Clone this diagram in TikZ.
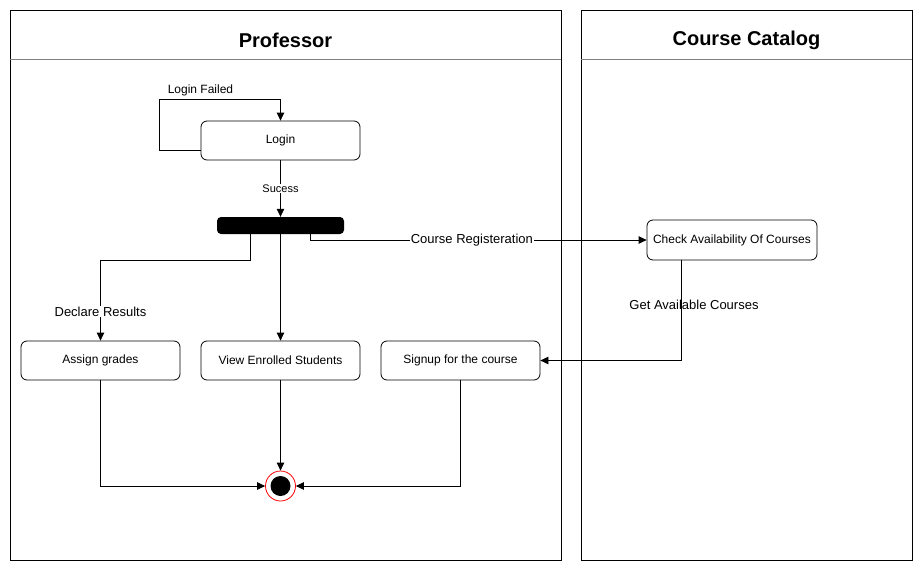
\documentclass[tikz,border=0pt]{standalone}
\usepackage{fontspec}
\setmainfont{Liberation Sans}
\usetikzlibrary{arrows.meta,calc}
\begin{document}
\begin{tikzpicture}[x=1pt,y=-1pt,
  lane/.style={draw=black,line width=1pt},
  actbox/.style={draw=black,line width=0.8pt,rounded corners=6pt,fill=white,
    minimum width=159pt,minimum height=39pt,inner sep=0pt,
    font=\fontsize{12}{14}\selectfont},
  title/.style={font=\fontsize{20}{24}\selectfont\bfseries},
  lbl/.style={font=\fontsize{12}{14}\selectfont,inner sep=1pt},
  elbl/.style={font=\fontsize{13}{15}\selectfont,inner sep=1pt,fill=white},
  arr/.style={draw=black,line width=0.8pt,-{Triangle[length=8pt,width=7.5pt]}}]
\useasboundingbox (0,0) rectangle (922,571);
\fill[white] (0,0) rectangle (922,571);

% swimlanes
\draw[lane] (10,10) rectangle (561,560);
\draw[gray,line width=0.8pt] (10,59) -- (561,59);
\node[title] (proftitle) at (285.5,40) {Professor};
\draw[lane] (581,10) rectangle (912,560);
\draw[gray,line width=0.8pt] (581,59) -- (912,59);
\node[title] (cattitle) at (746.5,40) {Course Catalog};

% activities
\node[actbox] (login) at (280.5,140.5) {Login};
\node[fill=black,rounded corners=4pt,minimum width=127pt,minimum height=17pt,inner sep=0pt] (bar) at (280.5,225.5) {};
\node[actbox,minimum width=170pt,minimum height=40pt] (check) at (732,240) {Check Availability Of Courses};
\node[actbox] (assign) at (100.5,360.5) {Assign grades};
\node[actbox] (view) at (280.5,360.5) {View Enrolled Students};
\node[actbox] (signup) at (460.5,360.5) {Signup for the course};
\node[circle,draw=red,fill=white,line width=0.8pt,minimum size=30pt,inner sep=0pt] (final) at (280.5,486) {};
\fill[black] (final.center) circle (10pt);

% flows
\draw[arr] ([yshift=-10pt]login.west) -- ++(-41,0) |- ([yshift=21pt]login.north) -- (login.north);
\node[lbl] (failed) at (200.5,90) {Login Failed};

\draw[arr] (login.south) -- (bar.north)
  node[pos=0.5,fill=white,font=\fontsize{11}{13}\selectfont,inner sep=1pt] (succ) {Sucess};

\draw[arr] ([xshift=30pt]bar.south) |- (check.west)
  node[pos=0.74,elbl] (reg) {Course Registeration};

\draw[arr] ([xshift=-30pt]bar.south) -- ++(0,26) -| (assign.north)
  node[pos=0.82,elbl] (declare) {Declare Results};

\draw[arr] (bar.south) -- (view.north);

\draw[arr] ([xshift=-51pt]check.south) |- (signup.east)
  node[pos=0.22,elbl,fill=none,xshift=13pt] (avail) {Get Available Courses};

\draw[arr] (assign.south) |- (final.west);
\draw[arr] (view.south) -- (final.north);
\draw[arr] (signup.south) |- (final.east);
\end{tikzpicture}
\end{document}
